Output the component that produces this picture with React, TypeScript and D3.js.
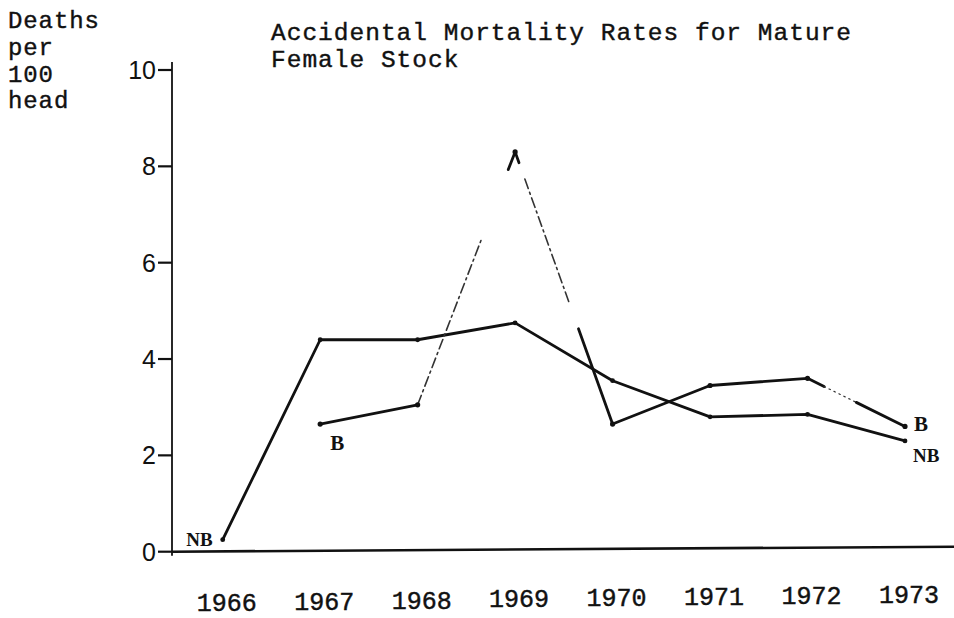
import React from "react";
import * as d3 from "d3";

const years = [1966, 1967, 1968, 1969, 1970, 1971, 1972, 1973];
const nbYears = [1966, 1967, 1968, 1969, 1970, 1971, 1972, 1973];
const nbValues = [0.25, 4.4, 4.4, 4.75, 3.55, 2.8, 2.85, 2.3];
const bYears = [1967, 1968, 1969, 1970, 1971, 1972, 1973];
const bValues = [2.65, 3.05, 8.3, 2.65, 3.45, 3.6, 2.6];
const yTicks = [0, 2, 4, 6, 8, 10];
const titleLines = ["Accidental Mortality Rates for Mature", "Female Stock"];
const yLabelLines = ["Deaths", "per", "100", "head"];

const W = 954;
const H = 618;
const mono = "'Liberation Mono', 'Courier New', monospace";
const serif = "'Liberation Serif', 'Times New Roman', serif";
const sans = "'Liberation Sans', Arial, sans-serif";

type Style = "solid" | "dashdot" | "dotted";
// how each B segment (keyed by its start year) is inked in the faded original
const bSegmentPieces: Record<number, [number, number, Style][]> = {
  1968: [[0, 0.66, "dashdot"], [0.93, 1, "solid"]],
  1969: [[0, 0.04, "solid"], [0.1, 0.56, "dashdot"], [0.65, 1, "solid"]],
  1972: [[0, 0.17, "solid"], [0.17, 0.5, "dotted"], [0.5, 1, "solid"]],
};

export default function App() {
  const x = d3.scaleLinear().domain([1966, 1973]).range([222.7, 905]);
  const y = d3.scaleLinear().domain([0, 10]).range([551.7, 70]);
  const axisX = 172;

  const nbData = nbYears.map((yr, i) => [yr, nbValues[i]] as [number, number]);
  const bData = bYears.map((yr, i) => [yr, bValues[i]] as [number, number]);
  const line = d3
    .line<[number, number]>()
    .x((d) => x(d[0]))
    .y((d) => y(d[1]));

  const bSegs: { d: string; style: Style }[] = [];
  for (let i = 0; i < bData.length - 1; i++) {
    const a = bData[i];
    const b = bData[i + 1];
    const pieces = bSegmentPieces[a[0]] || [[0, 1, "solid"]];
    const at = (t: number): [number, number] => [
      d3.interpolateNumber(a[0], b[0])(t),
      d3.interpolateNumber(a[1], b[1])(t),
    ];
    pieces.forEach(([t0, t1, style]) => {
      bSegs.push({ d: line([at(t0), at(t1)]) as string, style });
    });
  }

  const nbLast = nbData[nbData.length - 1];
  const bLast = bData[bData.length - 1];
  const ink = "#111";

  return (
    <svg
      width={W}
      height={H}
      style={{ position: "absolute", left: 0, top: 0, background: "#fff" }}
    >
      <rect x={0} y={0} width={W} height={H} fill="#fff" />
      {/* y label */}
      {yLabelLines.map((t, i) => (
        <text
          key={t}
          x={8}
          y={28 + i * 26.8}
          fontFamily={mono}
          fontSize={24}
          letterSpacing={0.9}
          fill={ink}
          stroke={ink}
          strokeWidth={0.4}
        >
          {t}
        </text>
      ))}
      {/* title */}
      {titleLines.map((t, i) => (
        <text
          key={t}
          x={271}
          y={39.5 + i * 27.5}
          fontFamily={mono}
          fontSize={24.5}
          letterSpacing={1.0}
          fill={ink}
          stroke={ink}
          strokeWidth={0.4}
        >
          {t}
        </text>
      ))}
      {/* axes */}
      <line x1={axisX} x2={axisX} y1={y(10) - 8} y2={y(0) + 4} stroke={ink} strokeWidth={1.8} />
      <line x1={axisX} x2={W} y1={y(0)} y2={y(0) - 5} stroke={ink} strokeWidth={2.6} />
      {yTicks.map((t) => (
        <g key={t}>
          <line x1={axisX - 14} x2={axisX} y1={y(t)} y2={y(t)} stroke={ink} strokeWidth={2.2} />
          <text
            x={axisX - 16}
            y={y(t) + 9}
            textAnchor="end"
            fontFamily={sans}
            fontSize={25}
            fill={ink}
          >
            {t}
          </text>
        </g>
      ))}
      {years.map((yr) => (
        <text
          key={yr}
          x={x(yr) + 4}
          y={611 - (yr - 1966) * 1.2}
          textAnchor="middle"
          fontFamily={mono}
          fontSize={25}
          fill={ink}
          stroke={ink}
          strokeWidth={0.45}
        >
          {yr}
        </text>
      ))}
      {/* NB series */}
      <path d={line(nbData) as string} fill="none" stroke={ink} strokeWidth={2.8} strokeLinejoin="round" />
      {nbData.map((d) => (
        <circle key={"nb" + d[0]} cx={x(d[0])} cy={y(d[1])} r={2.4} fill={ink} />
      ))}
      {/* B series */}
      {bSegs.map((s, i) => (
        <path
          key={i}
          d={s.d}
          fill="none"
          stroke={s.style === "solid" ? ink : "#333"}
          strokeWidth={s.style === "solid" ? 2.8 : s.style === "dashdot" ? 1.6 : 1.2}
          strokeDasharray={s.style === "dashdot" ? "10 4 2 4" : s.style === "dotted" ? "1.5 4" : undefined}
          strokeLinecap="round"
        />
      ))}
      {bData.map((d) => (
        <circle key={"b" + d[0]} cx={x(d[0])} cy={y(d[1])} r={2.6} fill={ink} />
      ))}
      {/* series labels */}
      <text
        x={x(nbData[0][0]) - 10}
        y={y(nbData[0][1]) + 6}
        textAnchor="end"
        fontFamily={serif}
        fontWeight="bold"
        fontSize={19}
        fill={ink}
      >
        NB
      </text>
      <text
        x={x(bData[0][0]) + 10}
        y={y(bData[0][1]) + 26}
        fontFamily={serif}
        fontWeight="bold"
        fontSize={21}
        fill={ink}
      >
        B
      </text>
      <text x={x(bLast[0]) + 9} y={y(bLast[1]) + 5} fontFamily={serif} fontWeight="bold" fontSize={21} fill={ink}>
        B
      </text>
      <text x={x(nbLast[0]) + 8} y={y(nbLast[1]) + 21} fontFamily={serif} fontWeight="bold" fontSize={19} fill={ink}>
        NB
      </text>
    </svg>
  );
}
